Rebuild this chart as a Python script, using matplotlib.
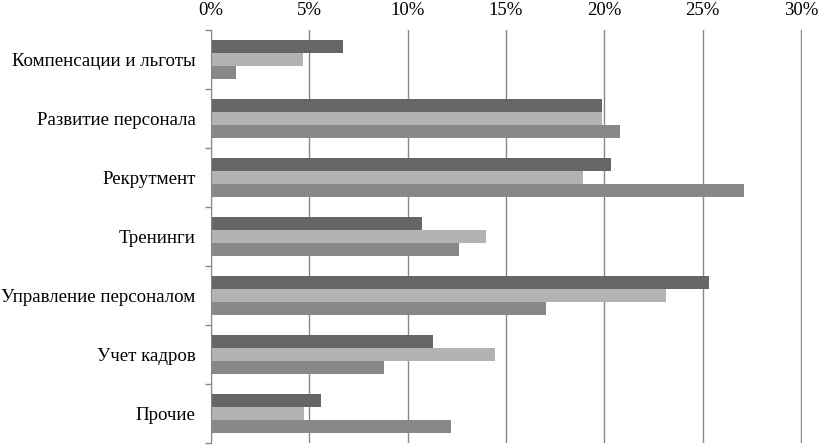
import matplotlib
matplotlib.use("Agg")
import matplotlib.pyplot as plt
import numpy as np
from matplotlib.ticker import FuncFormatter

plt.rcParams['font.family'] = ['Liberation Serif', 'DejaVu Serif']

# categories, top to bottom
categories = ['Компенсации и льготы', 'Развитие персонала', 'Рекрутмент',
              'Тренинги', 'Управление персоналом', 'Учет кадров', 'Прочие']

# three series (percent), in bar order within each group
series_dark = [6.7, 19.9, 20.35, 10.75, 25.3, 11.3, 5.6]
series_light = [4.7, 19.9, 18.9, 14.0, 23.15, 14.45, 4.75]
series_mid = [1.25, 20.8, 27.1, 12.6, 17.05, 8.8, 12.2]

colors = ['#666666', '#b3b3b3', '#888888']

fig = plt.figure(figsize=(8.2, 4.48), dpi=100)
ax = fig.add_axes([211 / 820, 1 - 443 / 448, 591 / 820, 413 / 448])

y = np.arange(len(categories))
h = 0.22
for i, (vals, c) in enumerate(zip([series_dark, series_light, series_mid], colors)):
    ax.barh(y + (i - 1) * h, vals, height=h, color=c, zorder=2)

ax.set_xlim(0, 30.05)
ax.set_ylim(len(categories) - 0.5, -0.5)
ax.set_xticks(np.arange(0, 31, 5))
ax.xaxis.set_major_formatter(FuncFormatter(lambda v, p: f'{v:.0f}%'))
ax.xaxis.tick_top()
ax.tick_params(axis='x', length=0, pad=8, labelsize=13.5)
ax.grid(axis='x', color='#888888', linewidth=1, zorder=1)

ax.set_yticks(y)
ax.set_yticklabels(categories)
ax.set_yticks(np.arange(-0.5, len(categories)), minor=True)
ax.tick_params(axis='y', which='major', length=0, pad=11, labelsize=13.6)
ax.tick_params(axis='y', which='minor', length=4, color='#888888', width=1)

for s in ['top', 'right', 'bottom']:
    ax.spines[s].set_visible(False)
ax.spines['left'].set_color('#888888')

fig.savefig('out.png', dpi=100)
